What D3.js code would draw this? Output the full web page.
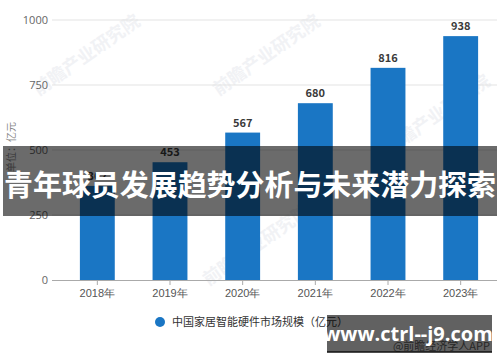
<!DOCTYPE html>
<html>
<head>
<meta charset="utf-8">
<script src="https://cdn.jsdelivr.net/npm/d3@7"></script>
<style>
  body { margin: 0; background: #fff; }
  svg { display: block; font-family: "Noto Sans CJK SC", "Open Sans", sans-serif; }
</style>
</head>
<body>
<div id="chart"></div>
<script>
// data
var years = ["2018年", "2019年", "2020年", "2021年", "2022年", "2023年"];
var values = [362, 453, 567, 680, 816, 938];
var yTicks = [0, 250, 500, 750, 1000];
var seriesName = "中国家居智能硬件市场规模（亿元）";
var bannerText = "青年球员发展趋势分析与未来潜力探索";
var siteText = "www.ctrl--j9.com";

var svgWidth = 500;
var svgHeight = 362;

var svg = d3.select("#chart")
    .append("svg")
    .attr("width", svgWidth)
    .attr("height", svgHeight);

var xScale = d3.scaleBand()
    .domain(years)
    .range([61, 497])
    .paddingInner(0.52)
    .paddingOuter(0.26);

var yScale = d3.scaleLinear()
    .domain([0, 1000])
    .range([280, 20]);

// faint watermarks
var marks = [[90, 60], [270, 60], [440, 120], [260, 250]];
svg.selectAll(".wm")
    .data(marks)
    .enter()
    .append("text")
    .attr("class", "wm")
    .attr("transform", d => `translate(${d[0]}, ${d[1]}) rotate(-35)`)
    .attr("text-anchor", "middle")
    .style("font-size", "18px")
    .style("font-weight", "bold")
    .style("fill", "#f1f2f5")
    .text("前瞻产业研究院");

// gridlines
svg.append("g")
    .selectAll("line")
    .data(yTicks.slice(1))
    .enter()
    .append("line")
    .attr("x1", 52)
    .attr("x2", 497)
    .attr("y1", d => yScale(d))
    .attr("y2", d => yScale(d))
    .attr("stroke", "#e3e3e3")
    .attr("stroke-width", 1);

// y tick labels
var leftAxis = d3.axisLeft(yScale).tickValues(yTicks).tickFormat(d3.format("d")).tickSize(0).tickPadding(0);
svg.append("g")
    .attr("transform", "translate(48, 0)")
    .call(leftAxis)
    .call(g => g.select(".domain").remove())
    .selectAll("text")
    .style("font-size", "11px")
    .style("fill", "#666")
    .style("font-family", "'Open Sans', sans-serif");

// bars
svg.selectAll(".bar")
    .data(values)
    .enter()
    .append("rect")
    .attr("class", "bar")
    .attr("x", (d, i) => xScale(years[i]))
    .attr("y", d => yScale(d))
    .attr("width", xScale.bandwidth())
    .attr("height", d => yScale(0) - yScale(d))
    .attr("fill", "#1a76c4");

// value labels
svg.selectAll(".val")
    .data(values)
    .enter()
    .append("text")
    .attr("class", "val")
    .attr("x", (d, i) => xScale(years[i]) + xScale.bandwidth() / 2)
    .attr("y", d => yScale(d) - 6)
    .attr("text-anchor", "middle")
    .style("font-size", "11px")
    .style("font-weight", "bold")
    .style("fill", "#3a3a3a")
    .text(d => d);

// x axis
var bottomAxis = d3.axisBottom(xScale).tickSize(5).tickPadding(4);
svg.append("g")
    .attr("transform", `translate(0, ${yScale(0)})`)
    .call(bottomAxis)
    .call(g => g.select(".domain").attr("d", "M52,0.5H497").attr("stroke", "#aaa"))
    .call(g => g.selectAll(".tick line").attr("stroke", "#aaa"))
    .selectAll("text")
    .style("font-size", "11px")
    .style("fill", "#555");

// y unit label
svg.append("text")
    .attr("transform", "translate(15, 147) rotate(-90)")
    .attr("text-anchor", "middle")
    .style("font-size", "10px")
    .style("fill", "#888")
    .text("单位：亿元");

// legend
svg.append("circle")
    .attr("cx", 160)
    .attr("cy", 322)
    .attr("r", 5)
    .attr("fill", "#1a76c4");

svg.append("text")
    .attr("x", 172)
    .attr("y", 326)
    .style("font-size", "11px")
    .style("fill", "#333")
    .text(seriesName);

svg.append("text")
    .attr("x", 490)
    .attr("y", 350)
    .attr("text-anchor", "end")
    .style("font-size", "11px")
    .style("fill", "#666")
    .text("@前瞻经济学人APP");

// banner overlay
svg.append("rect")
    .attr("x", 3)
    .attr("y", 146)
    .attr("width", 494)
    .attr("height", 70)
    .attr("fill", "#000")
    .attr("opacity", 0.58);

svg.append("text")
    .attr("x", 250)
    .attr("y", 196)
    .attr("text-anchor", "middle")
    .attr("textLength", 492)
    .attr("lengthAdjust", "spacingAndGlyphs")
    .style("font-size", "29px")
    .style("font-weight", "bold")
    .style("fill", "#fff")
    .text(bannerText);

// site box
svg.append("rect")
    .attr("x", 327)
    .attr("y", 315)
    .attr("width", 165)
    .attr("height", 37)
    .attr("fill", "#000")
    .attr("opacity", 0.62);

svg.append("line")
    .attr("x1", 327)
    .attr("x2", 492)
    .attr("y1", 352)
    .attr("y2", 352)
    .attr("stroke", "#111")
    .attr("stroke-width", 1.5);

svg.append("text")
    .attr("x", 408)
    .attr("y", 341)
    .attr("text-anchor", "middle")
    .style("font-size", "20px")
    .style("font-weight", "bold")
    .style("font-family", "'Open Sans', sans-serif")
    .style("fill", "#fff")
    .text(siteText);
</script>
</body>
</html>
